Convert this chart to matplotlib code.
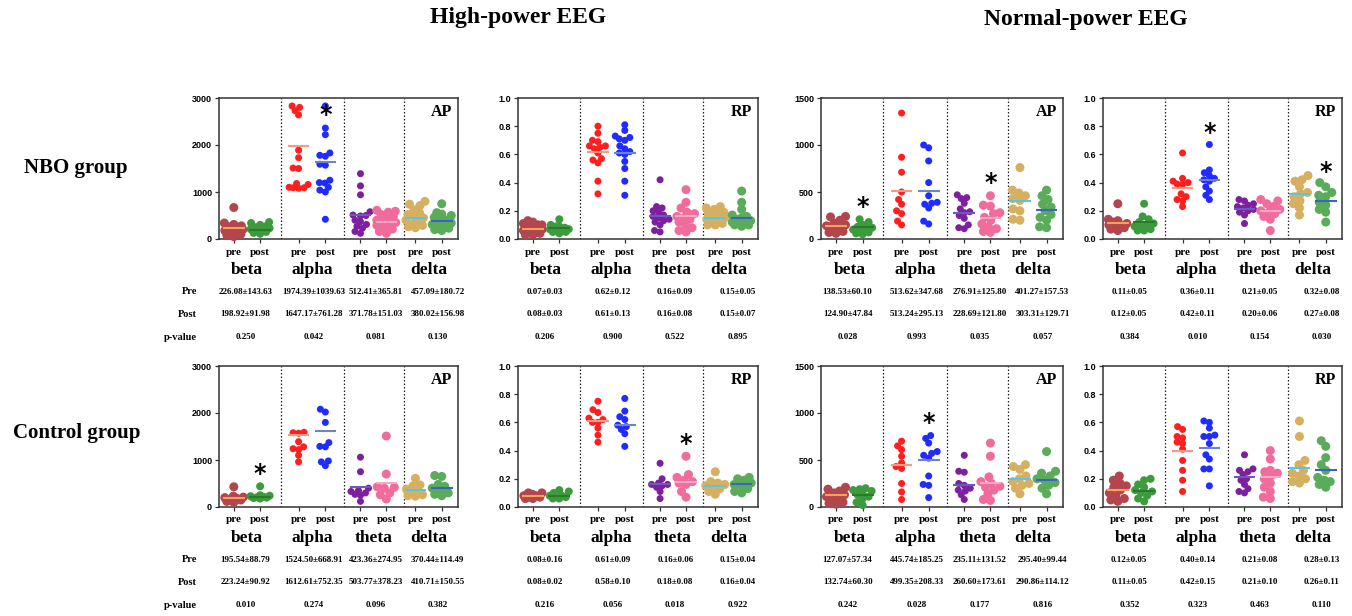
import numpy as np
import matplotlib
matplotlib.use('Agg')
import matplotlib.pyplot as plt
import matplotlib.transforms as mtrans

# ---------------- data ----------------
bands = ['beta', 'alpha', 'theta', 'delta']
conds = ['pre', 'post']

# each panel: 8 groups in order beta-pre, beta-post, alpha-pre, alpha-post, theta-pre, theta-post, delta-pre, delta-post
nbo_high_ap = [
    [670, 340, 310, 280, 260, 240, 220, 200, 180, 150, 120, 100, 80, 50],
    [360, 340, 300, 270, 250, 230, 210, 190, 170, 150, 130, 110],
    [2830, 2800, 2730, 2640, 1890, 1730, 1510, 1500, 1180, 1160, 1100, 1090, 1090, 1080],
    [2830, 2360, 2220, 1830, 1780, 1760, 1590, 1570, 1250, 1200, 1190, 1100, 1040, 1000, 420],
    [1390, 1130, 940, 580, 510, 500, 490, 400, 370, 310, 270, 230, 160, 120],
    [610, 590, 570, 520, 480, 440, 400, 370, 350, 320, 290, 250, 210, 160, 120],
    [800, 740, 710, 620, 560, 520, 490, 450, 400, 360, 320, 290, 260, 240],
    [750, 560, 530, 500, 460, 400, 370, 340, 310, 290, 260, 230, 200, 180],
]
nbo_high_rp = [
    [0.13, 0.12, 0.11, 0.10, 0.10, 0.09, 0.08, 0.07, 0.06, 0.05, 0.05, 0.04, 0.03, 0.03],
    [0.14, 0.10, 0.09, 0.09, 0.08, 0.08, 0.07, 0.07, 0.06, 0.06, 0.05, 0.05, 0.04],
    [0.80, 0.75, 0.70, 0.69, 0.66, 0.66, 0.65, 0.64, 0.61, 0.57, 0.56, 0.54, 0.41, 0.32],
    [0.81, 0.77, 0.73, 0.72, 0.71, 0.70, 0.66, 0.64, 0.62, 0.61, 0.60, 0.55, 0.50, 0.41, 0.31],
    [0.42, 0.23, 0.22, 0.20, 0.19, 0.17, 0.16, 0.15, 0.14, 0.13, 0.12, 0.10, 0.06, 0.05],
    [0.35, 0.26, 0.22, 0.19, 0.18, 0.16, 0.15, 0.14, 0.12, 0.10, 0.08, 0.06, 0.05],
    [0.23, 0.22, 0.21, 0.19, 0.18, 0.17, 0.16, 0.15, 0.14, 0.13, 0.12, 0.11, 0.10, 0.10],
    [0.34, 0.26, 0.21, 0.17, 0.16, 0.15, 0.14, 0.13, 0.12, 0.12, 0.11, 0.10, 0.10, 0.09],
]
nbo_norm_ap = [
    [240, 235, 200, 170, 150, 140, 120, 100, 80, 70, 60],
    [210, 180, 150, 130, 120, 110, 100, 90, 70, 60, 50],
    [1340, 870, 710, 500, 420, 370, 300, 270, 190, 150],
    [1000, 970, 830, 600, 460, 390, 380, 370, 330, 190, 160],
    [470, 440, 430, 380, 320, 290, 280, 250, 220, 150, 120, 110],
    [460, 360, 350, 280, 270, 230, 200, 160, 130, 110, 80, 70],
    [760, 520, 490, 460, 430, 410, 320, 300, 210, 200],
    [520, 460, 420, 370, 340, 300, 260, 230, 200, 130, 120],
]
nbo_norm_rp = [
    [0.25, 0.14, 0.13, 0.12, 0.11, 0.10, 0.10, 0.09, 0.08, 0.07, 0.06],
    [0.25, 0.16, 0.14, 0.12, 0.11, 0.10, 0.09, 0.08, 0.07, 0.06, 0.06],
    [0.61, 0.43, 0.41, 0.40, 0.39, 0.39, 0.32, 0.30, 0.28, 0.27, 0.23],
    [0.67, 0.49, 0.47, 0.45, 0.43, 0.42, 0.41, 0.37, 0.34, 0.31, 0.28],
    [0.28, 0.27, 0.25, 0.24, 0.23, 0.22, 0.21, 0.20, 0.19, 0.17, 0.11],
    [0.28, 0.27, 0.25, 0.23, 0.21, 0.20, 0.19, 0.18, 0.16, 0.14, 0.06],
    [0.45, 0.42, 0.41, 0.37, 0.33, 0.32, 0.30, 0.27, 0.25, 0.22, 0.17],
    [0.40, 0.37, 0.33, 0.31, 0.30, 0.26, 0.24, 0.21, 0.19, 0.12],
]
ctl_high_ap = [
    [430, 230, 210, 200, 190, 170, 150, 120, 100],
    [440, 250, 240, 230, 220, 210, 200, 190, 180],
    [1590, 1580, 1570, 1390, 1280, 1240, 1220, 1100, 960],
    [2080, 2020, 1800, 1370, 1290, 1280, 980, 960, 880],
    [1060, 750, 400, 350, 330, 300, 270, 250, 120],
    [1510, 700, 430, 420, 400, 300, 260, 170],
    [610, 470, 450, 380, 330, 300, 260, 240, 230],
    [670, 650, 480, 440, 400, 330, 300, 270, 240],
]
ctl_high_rp = [
    [0.10, 0.10, 0.09, 0.08, 0.08, 0.07, 0.07, 0.06, 0.06],
    [0.12, 0.11, 0.10, 0.08, 0.08, 0.07, 0.07, 0.06, 0.06],
    [0.75, 0.69, 0.67, 0.63, 0.62, 0.60, 0.60, 0.56, 0.51, 0.46],
    [0.77, 0.68, 0.64, 0.62, 0.58, 0.57, 0.55, 0.52, 0.43],
    [0.31, 0.20, 0.17, 0.16, 0.16, 0.15, 0.14, 0.11, 0.06],
    [0.36, 0.23, 0.21, 0.19, 0.18, 0.17, 0.16, 0.11, 0.07],
    [0.25, 0.18, 0.17, 0.16, 0.15, 0.14, 0.13, 0.11, 0.09],
    [0.21, 0.20, 0.19, 0.17, 0.16, 0.15, 0.13, 0.11, 0.10],
]
ctl_norm_ap = [
    [210, 190, 170, 150, 130, 110, 90, 70, 50, 40, 30],
    [200, 190, 180, 170, 140, 130, 110, 90, 50, 20],
    [700, 650, 610, 540, 470, 430, 410, 250, 160, 80],
    [760, 730, 680, 590, 570, 550, 520, 330, 240, 230, 100],
    [550, 380, 370, 250, 230, 200, 180, 170, 130, 80],
    [680, 540, 320, 270, 250, 220, 210, 180, 140, 80, 70],
    [450, 430, 400, 330, 300, 270, 250, 230, 200, 140],
    [590, 380, 360, 330, 300, 290, 260, 230, 200, 140],
]
ctl_norm_rp = [
    [0.22, 0.19, 0.17, 0.15, 0.14, 0.12, 0.10, 0.08, 0.06, 0.05, 0.04],
    [0.20, 0.19, 0.16, 0.14, 0.12, 0.11, 0.10, 0.08, 0.06, 0.04],
    [0.57, 0.55, 0.50, 0.49, 0.46, 0.45, 0.41, 0.33, 0.26, 0.19, 0.11],
    [0.61, 0.60, 0.56, 0.51, 0.50, 0.50, 0.45, 0.37, 0.34, 0.27, 0.27, 0.15],
    [0.37, 0.27, 0.26, 0.25, 0.23, 0.20, 0.19, 0.16, 0.13, 0.11, 0.10],
    [0.40, 0.34, 0.26, 0.25, 0.24, 0.22, 0.20, 0.17, 0.14, 0.11, 0.07, 0.06],
    [0.61, 0.50, 0.33, 0.30, 0.26, 0.24, 0.22, 0.20, 0.18, 0.17],
    [0.47, 0.43, 0.35, 0.30, 0.26, 0.21, 0.19, 0.18, 0.16, 0.14],
]

# table texts (mean±SD, p-values)
nbo_high_ap_pre = ['226.08±143.63', '1974.39±1039.63', '512.41±365.81', '457.09±180.72']
nbo_high_ap_post = ['198.92±91.98', '1647.17±761.28', '371.78±151.03', '380.02±156.98']
nbo_high_ap_p = ['0.250', '0.042', '0.081', '0.130']
nbo_high_rp_pre = ['0.07±0.03', '0.62±0.12', '0.16±0.09', '0.15±0.05']
nbo_high_rp_post = ['0.08±0.03', '0.61±0.13', '0.16±0.08', '0.15±0.07']
nbo_high_rp_p = ['0.206', '0.900', '0.522', '0.895']
nbo_norm_ap_pre = ['138.53±60.10', '513.62±347.68', '276.91±125.80', '401.27±157.53']
nbo_norm_ap_post = ['124.90±47.84', '513.24±295.13', '228.69±121.80', '303.31±129.71']
nbo_norm_ap_p = ['0.028', '0.993', '0.035', '0.057']
nbo_norm_rp_pre = ['0.11±0.05', '0.36±0.11', '0.21±0.05', '0.32±0.08']
nbo_norm_rp_post = ['0.12±0.05', '0.42±0.11', '0.20±0.06', '0.27±0.08']
nbo_norm_rp_p = ['0.384', '0.010', '0.154', '0.030']
ctl_high_ap_pre = ['195.54±88.79', '1524.50±668.91', '423.36±274.95', '370.44±114.49']
ctl_high_ap_post = ['223.24±90.92', '1612.61±752.35', '503.77±378.23', '410.71±150.55']
ctl_high_ap_p = ['0.010', '0.274', '0.096', '0.382']
ctl_high_rp_pre = ['0.08±0.16', '0.61±0.09', '0.16±0.06', '0.15±0.04']
ctl_high_rp_post = ['0.08±0.02', '0.58±0.10', '0.18±0.08', '0.16±0.04']
ctl_high_rp_p = ['0.216', '0.056', '0.018', '0.922']
ctl_norm_ap_pre = ['127.07±57.34', '445.74±185.25', '235.11±131.52', '295.40±99.44']
ctl_norm_ap_post = ['132.74±60.30', '499.35±208.33', '260.60±173.61', '290.86±114.12']
ctl_norm_ap_p = ['0.242', '0.028', '0.177', '0.816']
ctl_norm_rp_pre = ['0.12±0.05', '0.40±0.14', '0.21±0.08', '0.28±0.13']
ctl_norm_rp_post = ['0.11±0.05', '0.42±0.15', '0.21±0.10', '0.26±0.11']
ctl_norm_rp_p = ['0.352', '0.323', '0.463', '0.110']

# significance stars: (group index, y)
nbo_high_ap_stars = [(3, 2630)]
nbo_high_rp_stars = []
nbo_norm_ap_stars = [(1, 342), (5, 591)]
nbo_norm_rp_stars = [(3, 0.75), (7, 0.477)]
ctl_high_ap_stars = [(1, 695)]
ctl_high_rp_stars = [(5, 0.45)]
ctl_norm_ap_stars = [(3, 889)]
ctl_norm_rp_stars = []

col_titles = ['High-power EEG', 'Normal-power EEG']
row_titles = ['NBO group', 'Control group']
table_rows = ['Pre', 'Post', 'p-value']

# ---------------- style ----------------
dot_colors = ['#b3454d', '#3c9b3c', '#ff1f1f', '#1f2bff', '#7d1f9e', '#f06c9c', '#d6b060', '#5aab5a']
mean_colors = ['#f2a35a', '#2a7a2a', '#f59a84', '#6f84c8', '#6a5ac0', '#f4a9c4', '#52c8e6', '#3a62c8']
dot_diam_px = [9, 8, 7, 7, 7, 9, 9, 9]
xpos = [0.062, 0.172, 0.333, 0.445, 0.592, 0.700, 0.822, 0.932]
seps = [0.258, 0.521, 0.772]
tab_x = [0.11, 0.395, 0.655, 0.915]

SERIF = 'Liberation Serif'
SANS = 'Liberation Sans'

W, H = 1352, 616
fig = plt.figure(figsize=(W / 100, H / 100), dpi=100)

panels = [
    [(nbo_high_ap, nbo_high_ap_pre, nbo_high_ap_post, nbo_high_ap_p, nbo_high_ap_stars, 'AP', 3000, 1000, '%d'),
     (nbo_high_rp, nbo_high_rp_pre, nbo_high_rp_post, nbo_high_rp_p, nbo_high_rp_stars, 'RP', 1.0, 0.2, '%.1f'),
     (nbo_norm_ap, nbo_norm_ap_pre, nbo_norm_ap_post, nbo_norm_ap_p, nbo_norm_ap_stars, 'AP', 1500, 500, '%d'),
     (nbo_norm_rp, nbo_norm_rp_pre, nbo_norm_rp_post, nbo_norm_rp_p, nbo_norm_rp_stars, 'RP', 1.0, 0.2, '%.1f')],
    [(ctl_high_ap, ctl_high_ap_pre, ctl_high_ap_post, ctl_high_ap_p, ctl_high_ap_stars, 'AP', 3000, 1000, '%d'),
     (ctl_high_rp, ctl_high_rp_pre, ctl_high_rp_post, ctl_high_rp_p, ctl_high_rp_stars, 'RP', 1.0, 0.2, '%.1f'),
     (ctl_norm_ap, ctl_norm_ap_pre, ctl_norm_ap_post, ctl_norm_ap_p, ctl_norm_ap_stars, 'AP', 1500, 500, '%d'),
     (ctl_norm_rp, ctl_norm_rp_pre, ctl_norm_rp_post, ctl_norm_rp_p, ctl_norm_rp_stars, 'RP', 1.0, 0.2, '%.1f')],
]

ax_left_px = [219, 518, 821, 1103]
ax_w_px = [239, 240, 242, 239]
ax_bot_px = [239, 507]
ax_h_px = 141


def swarm_offsets(ypix, d, maxoff):
    """Beeswarm offsets (pixels) with a bounded half-width; overlap allowed when crowded."""
    ypix = np.asarray(ypix, float)
    order = np.argsort(ypix)
    placed = []
    xs = np.zeros(len(ypix))
    grid = np.arange(-maxoff, maxoff + 0.01, 0.5)
    grid = grid[np.argsort(np.abs(grid) + 1e-3 * grid)]
    for i in order:
        y = ypix[i]
        neigh = [(px, py) for px, py in placed if abs(py - y) < 2 * d]
        if not neigh:
            xs[i] = 0.0
        else:
            P = np.array(neigh)
            best, bestd = 0.0, -1.0
            for cx in grid:
                md = np.min(np.hypot(P[:, 0] - cx, P[:, 1] - y))
                if md >= d:
                    best = cx
                    break
                if md > bestd + 0.3:
                    best, bestd = cx, md
            xs[i] = best
        placed.append((xs[i], y))
    return xs


def mean_of(s):
    return float(s.split('±')[0])


def fy(px):
    return 1 - px / H


for r in range(2):
    for c in range(4):
        data, tpre, tpost, tp, stars, lab, ymax, ystep, fmt = panels[r][c]
        ax = fig.add_axes([ax_left_px[c] / W, fy(ax_bot_px[r]), ax_w_px[c] / W, ax_h_px / H])
        ax.set_xlim(0, 1)
        ax.set_ylim(0, ymax)
        yt = np.arange(0, ymax + ystep / 2, ystep)
        ax.set_yticks(yt)
        ax.set_yticklabels([fmt % v for v in yt], fontfamily=SANS, fontweight='bold', fontsize=6.5)
        ax.set_xticks(xpos)
        ax.set_xticklabels([])
        ax.tick_params(axis='both', length=3, width=0.9, color='#333333', pad=2)
        for sp in ax.spines.values():
            sp.set_color('#333333')
            sp.set_linewidth(1.1)
        for s in seps:
            ax.axvline(s, color='#222222', lw=0.9, ls=(0, (1.2, 1.6)))

        # points
        for g in range(8):
            vals = np.asarray(data[g], float)
            d = dot_diam_px[g]
            pts = ax.transData.transform(np.column_stack([np.full(len(vals), xpos[g]), vals]))
            offs = swarm_offsets(pts[:, 1], d * 0.78, 9.5)
            pts[:, 0] += offs
            dpts = ax.transData.inverted().transform(pts)
            ax.scatter(dpts[:, 0], dpts[:, 1], s=(d * 0.72) ** 2, color=dot_colors[g],
                       edgecolors='none', zorder=3, clip_on=False)
        # mean lines
        for b in range(4):
            for k, tab in enumerate([tpre, tpost]):
                g = 2 * b + k
                m = mean_of(tab[b])
                hw = 0.045
                ax.plot([xpos[g] - hw, xpos[g] + hw], [m, m], color=mean_colors[g], lw=1.5, zorder=4,
                        solid_capstyle='butt')
        # stars
        for g, yv in stars:
            ax.text(xpos[g], yv, '*', ha='center', va='center', fontsize=17, fontweight='bold',
                    fontfamily='DejaVu Sans', color='black', zorder=5)
        # AP / RP
        ax.text(0.975, 0.90, lab, transform=ax.transAxes, ha='right', va='center',
                fontfamily=SERIF, fontweight='bold', fontsize=11.5)

        bt = mtrans.blended_transform_factory(ax.transData, fig.transFigure)
        base = ax_bot_px[r]
        for g in range(8):
            ax.text(xpos[g], fy(base + 13), conds[g % 2], transform=bt, ha='center', va='center',
                    fontfamily=SERIF, fontweight='bold', fontsize=8)
        for b in range(4):
            ax.text((xpos[2 * b] + xpos[2 * b + 1]) / 2, fy(base + 31), bands[b], transform=bt,
                    ha='center', va='center', fontfamily=SERIF, fontweight='bold', fontsize=12.5)
            for k, tab in enumerate([tpre, tpost, tp]):
                ax.text(tab_x[b], fy(base + 53 + 22.5 * k), tab[b], transform=bt, ha='center', va='center',
                        fontfamily=SERIF, fontweight='bold', fontsize=6.5)
        if c == 0:
            for k, t in enumerate(table_rows):
                fig.text(197 / W, fy(base + 53 + 22.5 * k), t, ha='right', va='center',
                         fontfamily=SERIF, fontweight='bold', fontsize=7.5)

fig.text(518 / W, fy(18), col_titles[0], ha='center', va='center', fontfamily=SERIF,
         fontweight='bold', fontsize=17)
fig.text(1086 / W, fy(20), col_titles[1], ha='center', va='center', fontfamily=SERIF,
         fontweight='bold', fontsize=17)
fig.text(76 / W, fy(168), row_titles[0], ha='center', va='center', fontfamily=SERIF,
         fontweight='bold', fontsize=15)
fig.text(77 / W, fy(433), row_titles[1], ha='center', va='center', fontfamily=SERIF,
         fontweight='bold', fontsize=15)

fig.savefig('out.png', dpi=100, facecolor='white')
